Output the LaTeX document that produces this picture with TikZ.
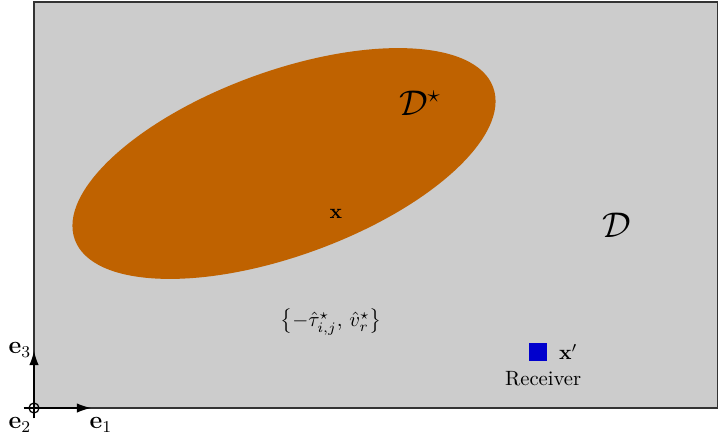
\documentclass[tikz,border=0pt]{standalone}
\usepackage{amsmath,amssymb}
\usetikzlibrary{arrows.meta, positioning}

\definecolor{regiongray}{RGB}{204,204,204}
\definecolor{regionorange}{RGB}{191,98,0}
\definecolor{receiverblue}{RGB}{0,0,205}

\begin{document}
\begin{tikzpicture}[
    x=0.017cm, y=0.017cm,
    fullregion/.style={fill=regiongray, draw=black!80, line width=0.6pt},
    subregion/.style={fill=regionorange, draw=none},
    axis/.style={-{Latex[length=2.4mm, width=1.6mm]}, line width=0.6pt},
    axislabel/.style={font=\large, inner sep=1pt},
    regionlabel/.style={font=\LARGE, inner sep=1pt},
    receiver/.style={rectangle, fill=receiverblue, minimum size=9pt, inner sep=0pt}
]
\useasboundingbox (0,0) rectangle (718,439);

% Domain and subdomain
\draw[fullregion] (34,31) rectangle (718,437);
\fill[subregion] (284,275.5) ellipse[x radius=222.6, y radius=92.3, rotate=20];

% Labels inside the domain
\node[regionlabel] (dstar) at (420,336) {$\mathcal{D}^\star$};
\node[regionlabel] (dom) at (617,214) {$\mathcal{D}$};
\node (x) at (336,225) {$\mathbf{x}$};
\node[inner sep=1pt] (params) at (331,117) {$\left\{-\hat{\tau}^\star_{i,j},\,\hat{v}^\star_r\right\}$};

% Receiver
\node[receiver] (rx) at (538,87) {};
\node[right=2pt of rx] (xprime) {$\mathbf{x}'$};
\node[below=1pt of rx, xshift=2.5pt] (rxlabel) {Receiver};

% Axes
\coordinate (origin) at (34,31);
\coordinate (e1end) at (91,31);
\coordinate (e3end) at (34,88);
\draw[axis] (origin) -- (e1end);
\draw[axis] (origin) -- (e3end);
\draw[line width=0.6pt] (origin) circle[radius=5];
\draw[line width=0.6pt] ([xshift=-5]origin) -- ([xshift=5]origin)
    ([yshift=-5]origin) -- ([yshift=5]origin);
\node[axislabel] (e1) at (101,14) {$\mathbf{e}_1$};
\node[axislabel] (e2) at (20,14) {$\mathbf{e}_2$};
\node[axislabel] (e3) at (20,89) {$\mathbf{e}_3$};

\end{tikzpicture}
\end{document}
